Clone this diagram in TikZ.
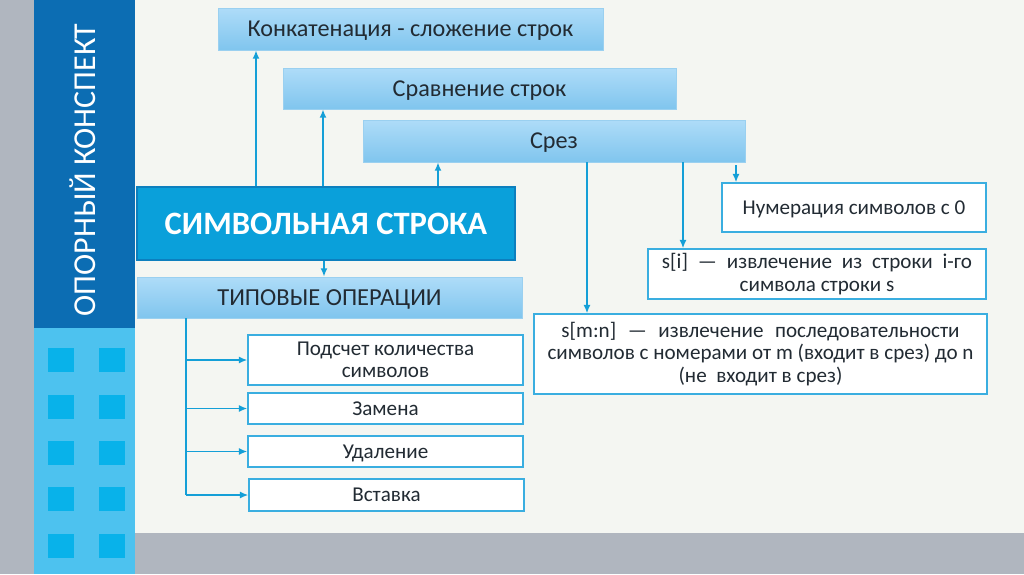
\documentclass[tikz,border=0pt]{standalone}
\usepackage{fontspec}
\setmainfont{Carlito}
\usetikzlibrary{arrows.meta}

\definecolor{sidegray}{HTML}{B0B6BF}
\definecolor{darkband}{HTML}{0C6DB3}
\definecolor{lightband}{HTML}{4DC2EF}
\definecolor{bandsq}{HTML}{08B2EA}
\definecolor{pagebg}{HTML}{F4F6F2}
\definecolor{mainfill}{HTML}{0AA0DA}
\definecolor{mainedge}{HTML}{0C7FBE}
\definecolor{gradtop}{HTML}{AEDCF8}
\definecolor{gradbot}{HTML}{80C5EE}
\definecolor{gradedge}{HTML}{9AD0F0}
\definecolor{linkblue}{HTML}{149FD7}
\definecolor{boxedge}{HTML}{3AAEE0}
\definecolor{inktext}{HTML}{222B33}

\def\pxu{0.025cm}

\tikzset{
    oneline/.style={text height=#1, text depth=0pt},
    gradbox/.style={draw=gradedge, top color=gradtop, bottom color=gradbot,
        inner sep=0pt, text=inktext, oneline=11pt, font=\fontsize{17.2}{20}\selectfont},
    whitebox/.style={draw=boxedge, fill=white, line width=0.9pt,
        inner sep=0pt, text=inktext, align=center,
        font=\fontsize{15}{16}\selectfont},
    link/.style={draw=linkblue, line width=1.4pt},
    arr/.style={link, -{Latex[length=6pt,width=5pt]}}
}

\begin{document}
\begin{tikzpicture}[x=0.025cm, y=-0.025cm]
    \useasboundingbox (0,0) rectangle (1024,574);

    % Hintergrund
    \fill[pagebg] (135,0) rectangle (1024,533);
    \fill[sidegray] (0,0) rectangle (34,574);
    \fill[sidegray] (135,533) rectangle (1024,574);
    \fill[darkband] (34,0) rectangle (135,328);
    \fill[lightband] (34,328) rectangle (135,574);
    \foreach \y in {348, 395, 441, 487, 534} {
        \fill[bandsq] (48,\y) rectangle (74,\y+24);
        \fill[bandsq] (99,\y) rectangle (125,\y+24);
    }
    \node[rotate=90, text=white, font=\fontsize{22.7}{26}\selectfont] (title) at (83,170) {ОПОРНЫЙ КОНСПЕКТ};

    % Obere Operationen
    \node[gradbox, minimum width=385*\pxu, minimum height=42*\pxu] (concat) at (410.5,29) {Конкатенация - сложение строк};
    \node[gradbox, minimum width=393*\pxu, minimum height=41*\pxu] (compare) at (479.5,88.5) {Сравнение строк};
    \node[gradbox, minimum width=382*\pxu, minimum height=42*\pxu] (slice) at (554,141) {Срез};

    % Hauptknoten
    \node[draw=mainedge, fill=mainfill, line width=0.9pt, text=white, inner sep=0pt, oneline=15pt,
        minimum width=378*\pxu, minimum height=73*\pxu,
        font=\bfseries\fontsize{23.2}{28}\selectfont] (mainstr) at (326,223.5) {СИМВОЛЬНАЯ СТРОКА};
    \node[gradbox, minimum width=385*\pxu, minimum height=41*\pxu,
        font=\fontsize{17.4}{20}\selectfont] (typical) at (329.5,297.5) {ТИПОВЫЕ ОПЕРАЦИИ};

    % Typische Operationen
    \node[whitebox, minimum width=275*\pxu, minimum height=50*\pxu] (count) at (385.5,360) {Подсчет количества\\символов};
    \node[whitebox, oneline=9.7pt, minimum width=275*\pxu, minimum height=31*\pxu] (replace) at (385.5,408.5) {Замена};
    \node[whitebox, oneline=9.7pt, minimum width=275*\pxu, minimum height=31*\pxu] (delete) at (385.5,451.5) {Удаление};
    \node[whitebox, oneline=9.7pt, minimum width=275*\pxu, minimum height=32*\pxu] (insert) at (386.5,495) {Вставка};

    % Срез im Detail
    \node[whitebox, oneline=9.7pt, minimum width=264*\pxu, minimum height=49*\pxu] (numbering) at (854,207.5) {Нумерация символов с 0};
    \node[whitebox, minimum width=338*\pxu, minimum height=50*\pxu] (sindex) at (817,274)
        {\makebox[7.75cm][s]{s[i] — извлечение из строки i-го}\\символа строки s};
    \node[whitebox, minimum width=453*\pxu, minimum height=80*\pxu] (sslice) at (760.5,354)
        {\makebox[9.95cm][s]{s[m:n] — извлечение последовательности}\\символов с номерами от m (входит в срез) до n\\(не \ входит в срез)};

    % Verbindungen nach oben
    \coordinate (upA) at (256,0);
    \coordinate (upB) at (323,0);
    \coordinate (upC) at (438,0);
    \draw[arr] (upA |- mainstr.north) -- (upA |- concat.south);
    \draw[arr] (upB |- mainstr.north) -- (upB |- compare.south);
    \draw[arr] (upC |- mainstr.north) -- (upC |- slice.south);
    \coordinate (downA) at (324,0);
    \draw[arr] (downA |- mainstr.south) -- (downA |- typical.north);

    % Stamm mit Abzweigungen
    \coordinate (trunk) at (186,0);
    \draw[link] (trunk |- typical.south) -- (trunk |- insert.west);
    \foreach \n in {count, replace, delete, insert} {
        \draw[arr] (trunk |- \n.west) -- (\n.west);
    }

    % Verbindungen vom Срез
    \coordinate (slA) at (587,0);
    \coordinate (slB) at (683,0);
    \coordinate (slC) at (736,0);
    \draw[arr] (slA |- slice.south) -- (slA |- sslice.north);
    \draw[arr] (slB |- slice.south) -- (slB |- sindex.north);
    \draw[arr, shorten <=3*\pxu] (slC |- slice.south) -- (slC |- numbering.north);
\end{tikzpicture}
\end{document}
